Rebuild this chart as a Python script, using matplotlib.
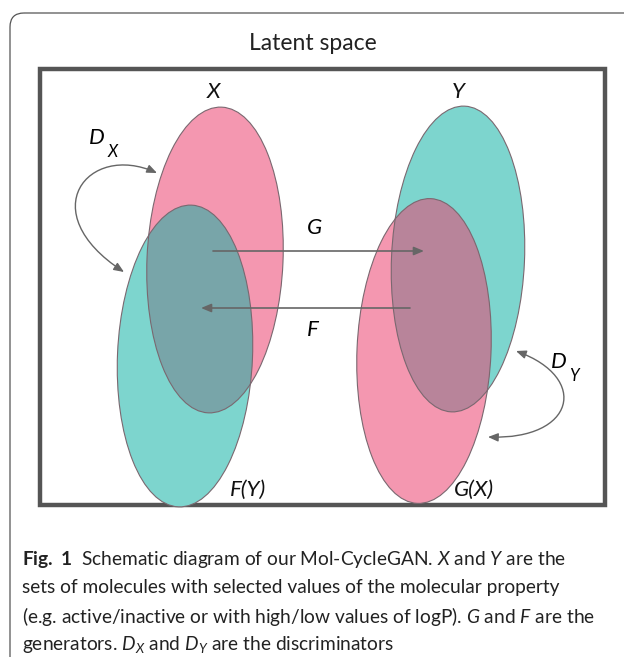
import matplotlib.pyplot as plt
from matplotlib.patches import Ellipse, FancyBboxPatch, FancyArrowPatch, Rectangle
from matplotlib.path import Path

plt.rcParams['font.family'] = ['Lato', 'DejaVu Sans']
plt.rcParams['mathtext.fontset'] = 'custom'
plt.rcParams['mathtext.rm'] = 'Lato'
plt.rcParams['mathtext.it'] = 'Lato:italic'
plt.rcParams['mathtext.bf'] = 'Lato:bold'

# sets drawn in the latent space: name, centre, width, height, fill colour
set_names = ['X', 'F(Y)', 'Y', 'G(X)']
set_centres = [(215, 260), (185, 356), (458, 259), (424, 351)]
set_widths = [136, 135, 133, 134]
set_heights = [306, 302, 306, 305]
set_colours = ['#f497b0', '#7dd5ce', '#7dd5ce', '#f497b0']
overlap_colours = ['#78a5a9', '#b8849a']

set_label_pos = [(213, 92), (248, 490), (458, 92), (474, 490)]
tilt = 2.5

edge_col = '#7a6870'
arrow_col = '#666666'

fig = plt.figure(figsize=(6.24, 6.57), dpi=100)
ax = fig.add_axes([0, 0, 1, 1])
ax.set_xlim(0, 624)
ax.set_ylim(657, 0)
ax.axis('off')

# outer card (only left/top visible)
ax.add_patch(FancyBboxPatch((10, 13), 700, 700, boxstyle='round,pad=0,rounding_size=14',
                            fc='none', ec='#555555', lw=0.9))
ax.text(313, 44, 'Latent space', ha='center', va='center', fontsize=16.5, color='#222222')

# inner frame
ax.add_patch(Rectangle((40, 69), 565, 436, fc='white', ec='#555555', lw=3.2))

ells = []
for (c, w, h, col) in zip(set_centres, set_widths, set_heights, set_colours):
    e = Ellipse(c, w, h, angle=tilt, fc=col, ec='none', zorder=2)
    ax.add_patch(e)
    ells.append(e)

# overlaps: F(Y) over X, G(X) over Y
for top, bottom, col in [(1, 0, overlap_colours[0]), (3, 2, overlap_colours[1])]:
    o = Ellipse(set_centres[top], set_widths[top], set_heights[top], angle=tilt,
                fc=col, ec='none', zorder=3)
    ax.add_patch(o)
    o.set_clip_path(ells[bottom])

for (c, w, h) in zip(set_centres, set_widths, set_heights):
    ax.add_patch(Ellipse(c, w, h, angle=tilt, fc='none', ec=edge_col, lw=0.8, zorder=4))

for name, (x, y) in zip(set_names, set_label_pos):
    ax.text(x, y, name, ha='center', va='center', fontsize=16, style='italic', color='#111111', zorder=5)

# generators
head = '-|>,head_length=6,head_width=2.5'
ax.add_patch(FancyArrowPatch((213, 251), (424, 251), arrowstyle=head,
                             color=arrow_col, lw=1.2, zorder=6, shrinkA=0, shrinkB=0))
ax.add_patch(FancyArrowPatch((410, 308), (201, 308), arrowstyle=head,
                             color=arrow_col, lw=1.2, zorder=6, shrinkA=0, shrinkB=0))
ax.text(314, 228, 'G', ha='center', va='center', fontsize=16, style='italic', zorder=6)
ax.text(313, 330, 'F', ha='center', va='center', fontsize=16, style='italic', zorder=6)

# discriminators
dx_path = Path([(157, 173), (88, 142), (32, 212), (124, 272)],
               [Path.MOVETO, Path.CURVE4, Path.CURVE4, Path.CURVE4])
ax.add_patch(FancyArrowPatch(path=dx_path, arrowstyle='<|-|>,head_length=6,head_width=2.5',
                             color=arrow_col, lw=1.0, zorder=6))
dy_path = Path([(516, 351), (590, 378), (575, 440), (488, 437)],
               [Path.MOVETO, Path.CURVE4, Path.CURVE4, Path.CURVE4])
ax.add_patch(FancyArrowPatch(path=dy_path, arrowstyle='<|-|>,head_length=6,head_width=2.5',
                             color=arrow_col, lw=1.0, zorder=6))
ax.text(97, 138, 'D', ha='center', va='center', fontsize=16, style='italic', zorder=6)
ax.text(113, 152, 'X', ha='center', va='center', fontsize=12, style='italic', zorder=6)
ax.text(559, 362, 'D', ha='center', va='center', fontsize=16, style='italic', zorder=6)
ax.text(574, 376, 'Y', ha='center', va='center', fontsize=12, style='italic', zorder=6)

# caption
caption = [
    r'$\mathbf{Fig.\ 1}$  Schematic diagram of our Mol-CycleGAN. $X$ and $Y$ are the',
    'sets of molecules with selected values of the molecular property',
    '(e.g. active/inactive or with high/low values of logP). $G$ and $F$ are the',
    'generators. $D_X$ and $D_Y$ are the discriminators',
]
for i, line in enumerate(caption):
    ax.text(22, 559 + 28.5 * i, line, ha='left', va='center', fontsize=13.8, color='#222222')

fig.savefig('out.png', dpi=100)
